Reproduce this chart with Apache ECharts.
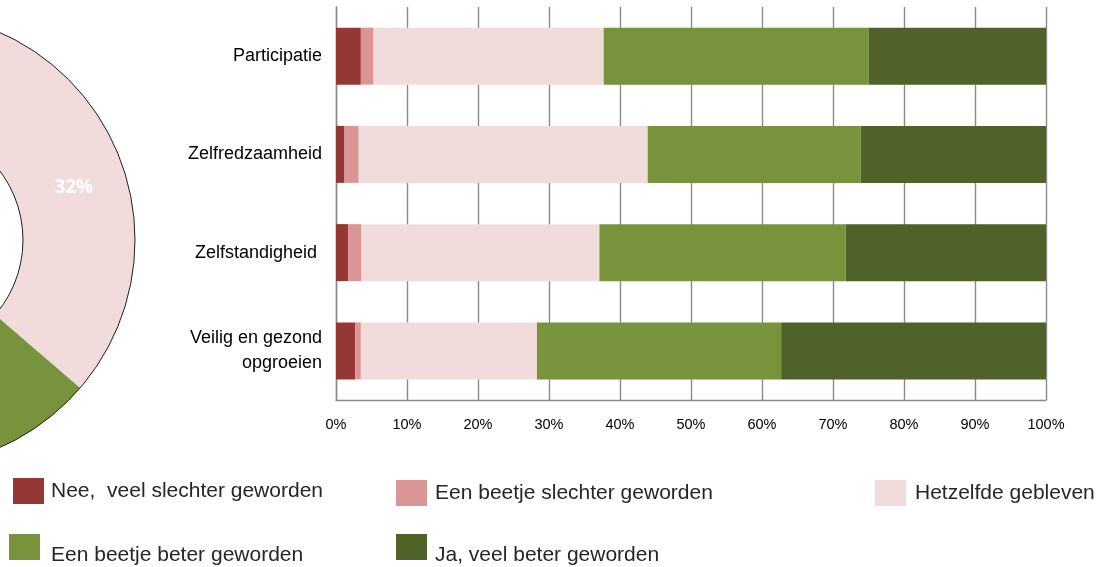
<!DOCTYPE html>
<html>
<head>
<meta charset="utf-8">
<script src="https://cdn.jsdelivr.net/npm/echarts@6/dist/echarts.min.js"></script>
<style>
html,body{margin:0;padding:0;background:#ffffff;}
#chart{width:1111px;height:567px;}
</style>
</head>
<body>
<div id="chart"></div>
<script>
// ---- data ----
const categories = ['Participatie', 'Zelfredzaamheid', 'Zelfstandigheid ', 'Veilig en gezond\nopgroeien'];
const seriesNames = ['Nee,  veel slechter geworden', 'Een beetje slechter geworden', 'Hetzelfde gebleven', 'Een beetje beter geworden', 'Ja, veel beter geworden'];
const neeVeelSlechter = [3.5, 1.2, 1.7, 2.7];
const beetjeSlechter = [1.8, 2.0, 1.9, 0.8];
const hetzelfde = [32.4, 40.7, 33.5, 24.8];
const beetjeBeter = [37.3, 30.0, 34.7, 34.4];
const jaVeelBeter = [25.0, 26.1, 28.2, 37.3];
const pieValues = [2.3, 1.6, 32.4, 34.4, 29.3];

// ---- styles ----
const colors = ['#953735', '#DA9694', '#F2DCDB', '#77933C', '#4F6228'];

function hasFont(name) {
  const c = document.createElement('canvas').getContext('2d');
  const t = 'Participatie WMwm 0123456789%';
  c.font = '40px monospace'; const a = c.measureText(t).width;
  c.font = '40px "' + name + '", monospace'; const b = c.measureText(t).width;
  c.font = '40px serif'; const a2 = c.measureText(t).width;
  c.font = '40px "' + name + '", serif'; const b2 = c.measureText(t).width;
  return a !== b && a2 !== b2;
}
let narrow = null;
if (hasFont('Liberation Sans Narrow')) narrow = 'Liberation Sans Narrow';
else if (hasFont('Arial Narrow')) narrow = 'Arial Narrow';
const catFont = narrow ? { fontFamily: narrow, fontSize: 22 } : { fontFamily: 'Liberation Sans', fontSize: 18 };
const xFont = narrow ? { fontFamily: narrow, fontSize: 18 } : { fontFamily: 'Liberation Sans', fontSize: 14.5 };

const barData = [neeVeelSlechter, beetjeSlechter, hetzelfde, beetjeBeter, jaVeelBeter];
const gridColor = '#8a8a8a';

const legendBase = {
  orient: 'horizontal', padding: 0, itemWidth: 31, itemHeight: 26, icon: 'rect',
  selectedMode: false
};
// second-row legend icon: rect in the top part of a taller icon box, so the text sits lower
const lowTextIcon = 'path://M0,0H31V26H0Z M0,42L0.01,42';
function legendText(pad) {
  return { fontFamily: 'Liberation Sans', fontSize: 21, color: '#262626', lineHeight: 22, padding: pad };
}

const option = {
  animation: false,
  backgroundColor: '#ffffff',
  grid: { left: 336, right: 65, top: 7, bottom: 167, containLabel: false },
  xAxis: {
    type: 'value', min: 0, max: 100, interval: 10,
    axisLine: { show: true, lineStyle: { color: gridColor, width: 1.4 } },
    axisTick: { show: false },
    splitLine: { show: true, lineStyle: { color: gridColor, width: 1.4 } },
    axisLabel: Object.assign({ color: '#000', margin: 17, formatter: v => v + '%' }, xFont)
  },
  yAxis: {
    type: 'category', data: categories, inverse: true,
    axisLine: { show: true, lineStyle: { color: gridColor, width: 1.4 } },
    axisTick: { show: false },
    splitLine: { show: false },
    axisLabel: Object.assign({ color: '#000', margin: 14, lineHeight: 25, align: 'right' }, catFont)
  },
  legend: [
    Object.assign({}, legendBase, { data: [seriesNames[0]], left: 13, top: 478, textStyle: legendText([0, 0, 0, 2]) }),
    Object.assign({}, legendBase, { data: [seriesNames[1]], left: 396, top: 480, textStyle: legendText([0, 0, 0, 3]) }),
    Object.assign({}, legendBase, { data: [seriesNames[2]], left: 875, top: 480, textStyle: legendText([0, 0, 0, 4]) }),
    Object.assign({}, legendBase, { data: [seriesNames[3]], left: 9, top: 534, icon: lowTextIcon, itemHeight: 42, textStyle: legendText([0, 0, 0, 6]) }),
    Object.assign({}, legendBase, { data: [seriesNames[4]], left: 396, top: 534, icon: lowTextIcon, itemHeight: 42, textStyle: legendText([0, 0, 0, 3]) })
  ],
  series: seriesNames.map((name, i) => ({
    name: name, type: 'bar', stack: 'total', barWidth: 57,
    itemStyle: { color: colors[i] },
    data: barData[i]
  })).concat([
    {
      type: 'pie', name: 'donut', center: [-92, 240], radius: [115, 227],
      startAngle: 90, clockwise: true, avoidLabelOverlap: false, silent: true,
      itemStyle: { borderWidth: 0 },
      labelLine: { show: false },
      data: pieValues.map((v, i) => ({
        value: v, name: seriesNames[i],
        itemStyle: { color: colors[i] },
        label: {
          show: i === 2, position: 'inside', color: '#ffffff', fontWeight: 'bold',
          fontSize: 19, fontFamily: 'Open Sans', formatter: p => Math.round(p.value) + '%'
        }
      }))
    },
    {
      type: 'pie', name: 'ring', center: [-92, 240], radius: [115, 227],
      silent: true, z: 5,
      label: { show: false }, labelLine: { show: false },
      itemStyle: { color: 'rgba(0,0,0,0)', borderColor: '#1e1e1e', borderWidth: 1 },
      data: [{ value: 1, name: '' }]
    }
  ])
};

const chart = echarts.init(document.getElementById('chart'), null, { renderer: 'canvas' });
chart.setOption(option);
</script>
</body>
</html>
